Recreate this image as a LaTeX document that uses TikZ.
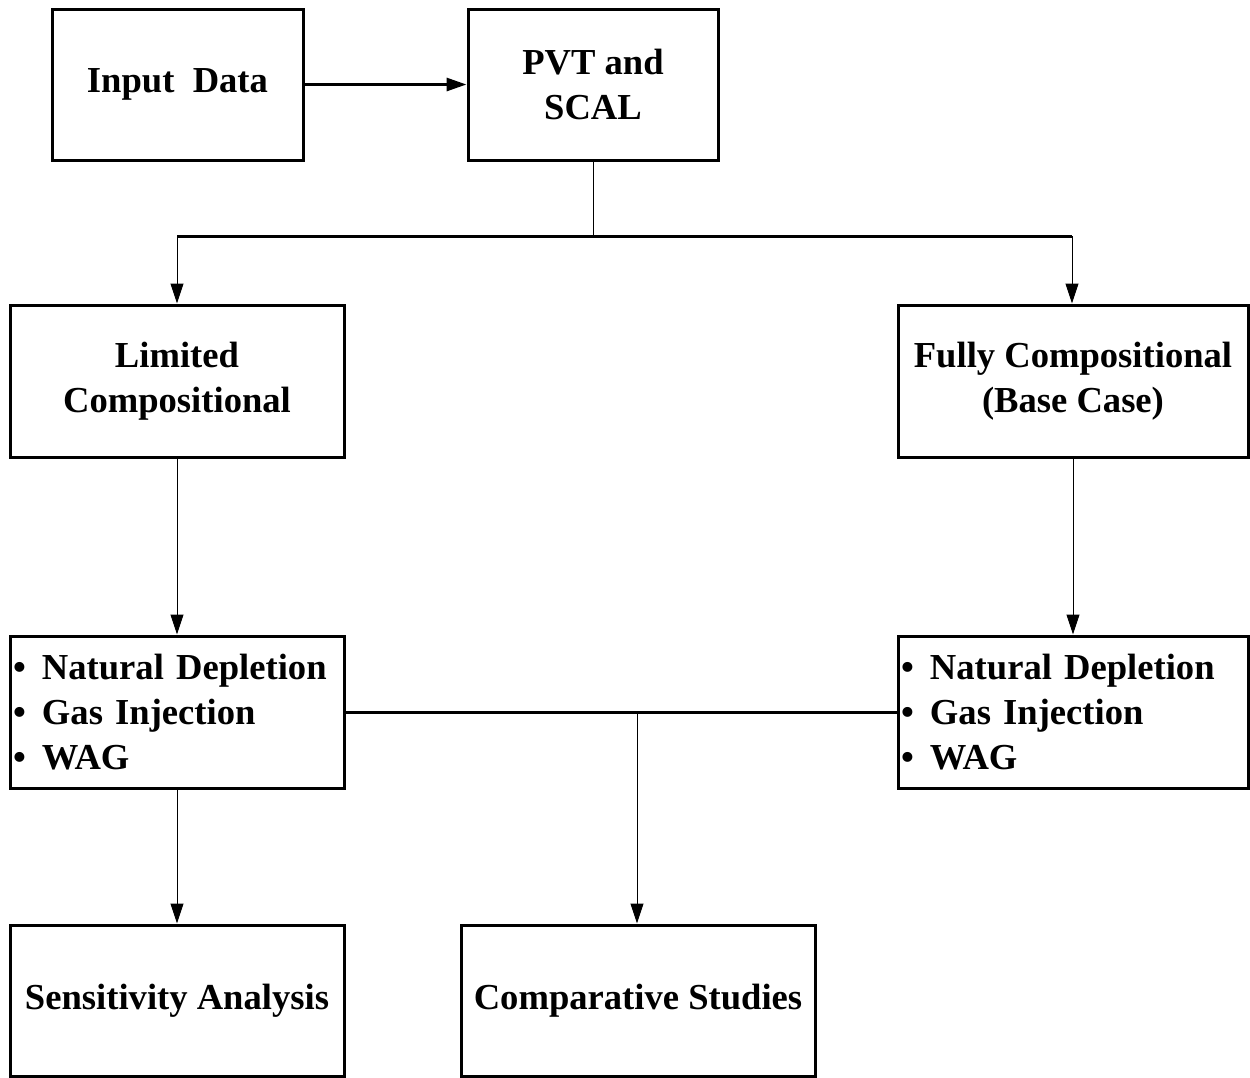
\documentclass[tikz,border=0pt]{standalone}
\usepackage{fontspec}
\setmainfont{Liberation Serif}
\usetikzlibrary{arrows.meta}
\newcommand{\bitem}[1]{\makebox[14.5pt][l]{\textbullet}#1}

\begin{document}
\begin{tikzpicture}[x=0.5pt,y=-0.5pt,
    box/.style={draw,line width=1.5pt,align=center,inner sep=1.5pt,
      font=\bfseries\fontsize{18.3}{22.5}\selectfont},
    lst/.style={box,align=left},
    tip/.style={-{Triangle[length=10pt,width=6.5pt]}}]
  \useasboundingbox (0,0) rectangle (1250,1078);
  % boxes
  \node[box,minimum width=125.5pt,minimum height=75.5pt] (input) at (177.5,84.5) {Input\ \ Data};
  \node[box,minimum width=125pt,minimum height=75.5pt] (pvt) at (593,84.5) {PVT and\\SCAL};
  \node[box,minimum width=167pt,minimum height=76pt] (lim) at (177,381) {Limited\\Compositional};
  \node[box,minimum width=175pt,minimum height=76pt] (full) at (1073,381) {Fully Compositional\\(Base Case)};
  \node[lst,text width=164pt,minimum height=76pt] (natL) at (177,712)
    {\bitem{Natural Depletion}\\\bitem{Gas Injection}\\\bitem{WAG}};
  \node[lst,text width=172pt,minimum height=76pt] (natR) at (1073,712)
    {\bitem{Natural Depletion}\\\bitem{Gas Injection}\\\bitem{WAG}};
  \node[box,minimum width=167pt,minimum height=75.5pt] (sens) at (177,1000.5) {Sensitivity Analysis};
  \node[box,minimum width=177pt,minimum height=75.5pt] (comp) at (638,1000.5) {Comparative Studies};
  % junctions
  \coordinate (barM) at (593,236);
  \coordinate (barL) at (177,236);
  \coordinate (barR) at (1072,236);
  \coordinate (midM) at (637,712);
  % connectors
  \draw[tip,line width=1.5pt] (input) -- (pvt);
  \draw[line width=0.5pt] (pvt) -- (barM);
  \draw[line width=1.5pt] (barL) -- (barR);
  \begin{scope}[tip,line width=0.5pt]
    \draw (barL) -- (barL |- lim.north);
    \draw (barR) -- (barR |- full.north);
    \draw (lim) -- (natL);
    \draw (full) -- (natR);
    \draw (natL) -- (sens);
    \draw (midM) -- (midM |- comp.north);
  \end{scope}
  \draw[line width=1.5pt] (natL) -- (natR);
\end{tikzpicture}
\end{document}
